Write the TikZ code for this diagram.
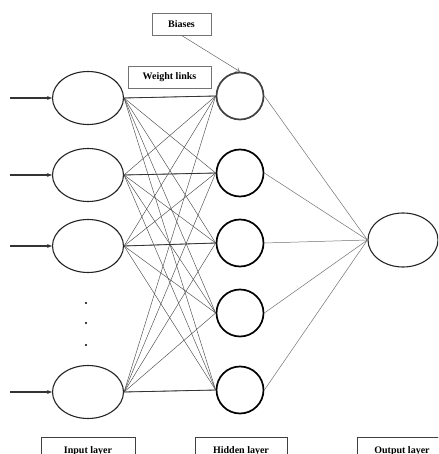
\documentclass[tikz,border=0pt]{standalone}
\usepackage{fontspec}
\setmainfont{Liberation Serif}
\usetikzlibrary{shapes.geometric,arrows.meta}
\begin{document}
\begin{tikzpicture}[x=1pt,y=-1pt,
  inell/.style={ellipse,draw=black!85,line width=1.1pt,minimum width=71pt,minimum height=53pt,inner sep=0pt},
  hid/.style={circle,draw=black,line width=1.7pt,minimum size=47pt,inner sep=0pt},
  lbl/.style={draw=black!55,line width=0.7pt,fill=white,font=\bfseries\fontsize{10}{11}\selectfont,inner sep=0pt},
  botlbl/.style={draw=black!75,line width=0.7pt,font=\bfseries\fontsize{10}{11}\selectfont,inner sep=0pt,minimum height=28pt},
  w/.style={draw=black!70,line width=0.45pt},
  wo/.style={draw=black!55,line width=0.5pt},
  inarr/.style={draw=black!80,line width=1.1pt,-{Stealth[length=5pt,width=4pt]}}
]
\useasboundingbox (0,0) rectangle (438,454);
\clip (0,0) rectangle (438,454);
\fill[white] (0,0) rectangle (438,454);

% input nodes
\node[inell] (i1) at (88,98) {};
\node[inell] (i2) at (88,175) {};
\node[inell] (i3) at (88,246) {};
\node[inell] (i4) at (88,392) {};

% hidden nodes
\node[hid,draw=black!75] (h1) at (240,96) {};
\node[hid] (h2) at (240,173) {};
\node[hid] (h3) at (240,243) {};
\node[hid] (h4) at (240,313) {};
\node[hid] (h5) at (240,390) {};

% output node
\node[inell,minimum width=70pt,minimum height=54pt] (o) at (403,240) {};

% dots
\node[circle,fill=black,inner sep=0pt,minimum size=2.2pt] (d1) at (86,303) {};
\node[circle,fill=black,inner sep=0pt,minimum size=2.2pt] (d2) at (86,323) {};
\node[circle,fill=black,inner sep=0pt,minimum size=2.2pt] (d3) at (86,345) {};

% weight links
\foreach \i in {1,2,3,4}{
  \foreach \h in {1,2,3,4,5}{
    \draw[w] (i\i.east) -- (h\h.west);
  }
}
\draw[draw=black!80,line width=0.8pt] (i1.east) -- (h1.west);
\draw[draw=black!80,line width=0.8pt] (i2.east) -- (h2.west);
\draw[draw=black!80,line width=0.8pt] (i3.east) -- (h3.west);
\draw[draw=black!80,line width=0.8pt] (i4.east) -- (h5.west);

% hidden to output
\foreach \h in {1,2,3,4,5}{
  \draw[wo] (h\h.east) -- (o.west);
}

% input arrows
\coordinate (a1) at (10,98);
\coordinate (a2) at (10,175);
\coordinate (a3) at (10,246);
\coordinate (a4) at (10,392);
\foreach \k in {1,2,3,4}{
  \draw[inarr] (a\k) -- (i\k.west);
}

% labels
\node[lbl,minimum width=59pt,minimum height=22pt] (bias) at (181.5,24) {Biases};
\node[lbl,minimum width=83pt,minimum height=22pt] (wl) at (169.5,77) {Weight links};
\draw[draw=black!60,line width=0.5pt,-{To[length=4pt,width=5pt]}] (bias.south) -- (h1.north);

\node[botlbl,minimum width=94pt] (il) at (88,451) {Input layer};
\node[botlbl,minimum width=92pt] (hl) at (241,451) {Hidden layer};
\node[botlbl,minimum width=90pt] (ol) at (402,451) {Output layer};
\end{tikzpicture}
\end{document}
